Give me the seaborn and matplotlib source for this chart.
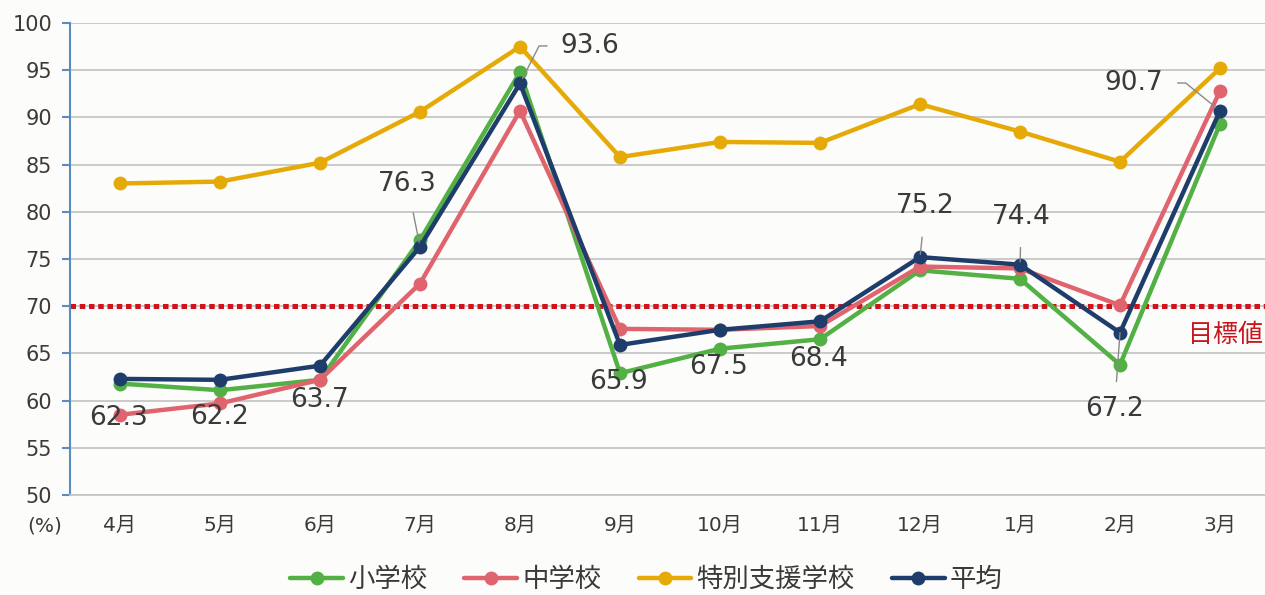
import numpy as np
import pandas as pd
import matplotlib
matplotlib.use('Agg')
import matplotlib.pyplot as plt
import matplotlib.transforms as mtransforms
import seaborn as sns

# ---------------- data ----------------
months = ['4月', '5月', '6月', '7月', '8月', '9月', '10月', '11月', '12月', '1月', '2月', '3月']
elementary = [61.8, 61.1, 62.2, 77.0, 94.8, 62.9, 65.5, 66.5, 73.8, 72.9, 63.8, 89.3]
junior = [58.5, 59.7, 62.2, 72.4, 90.7, 67.6, 67.5, 67.9, 74.2, 74.0, 70.1, 92.8]
special = [83.0, 83.2, 85.2, 90.6, 97.5, 85.8, 87.4, 87.3, 91.4, 88.5, 85.3, 95.2]
average = [62.3, 62.2, 63.7, 76.3, 93.6, 65.9, 67.5, 68.4, 75.2, 74.4, 67.2, 90.7]
series_names = ['小学校', '中学校', '特別支援学校', '平均']
target = 70
target_label = '目標値'
unit_label = '(%)'
yticks = list(range(50, 101, 5))

# ---------------- style ----------------
sns.set_theme(style='white')
plt.rcParams['font.family'] = ['DejaVu Sans', 'Noto Sans CJK JP']

colors = ['#52b044', '#e0646e', '#e6aa08', '#1e3d6b']
text_color = '#3a3a3a'
grid_color = '#c6c6c6'
axis_blue = '#5a8cbf'

rows = []
for name, vals in zip(series_names, [elementary, junior, special, average]):
    for i, (m, v) in enumerate(zip(months, vals)):
        rows.append({'pos': i, 'month': m, 'value': v, 'series': name})
df = pd.DataFrame(rows)

fig = plt.figure(figsize=(12.65, 5.95), dpi=100)
fig.patch.set_facecolor('#fcfcfa')
ax = fig.add_axes([70 / 1265, 100 / 595, 1200 / 1265, 472 / 595])
ax.set_facecolor('#fcfcfa')

sns.lineplot(data=df, x='pos', y='value', hue='series', hue_order=series_names,
             palette=colors, marker='o', markersize=10, markeredgewidth=0,
             linewidth=3.2, sort=False, ax=ax, zorder=3)

# target line
ax.axhline(target, color='#d0121b', lw=3.6, linestyle=(0, (1.1, 0.75)), zorder=2)
trans = mtransforms.blended_transform_factory(ax.transAxes, ax.transData)
ax.text(0.9625, target - 3.1, target_label, transform=trans, ha='center', va='center',
        fontsize=18, color='#c8161e', family=['Noto Sans CJK JP'])

# axes
ax.set_xlim(-0.5, 11.5)
ax.set_ylim(50, 100)
ax.set_yticks(yticks)
ax.set_yticklabels([str(t) for t in yticks], fontsize=15, color=text_color)
ax.set_xticks(range(len(months)))
ax.set_xticklabels(months, fontsize=14.5, color=text_color)
ax.set_xticks(np.arange(-0.5, len(months), 1.0), minor=True)
ax.tick_params(axis='x', which='major', length=0, pad=15)
ax.tick_params(axis='x', which='minor', length=5, width=1, color='#aaaaaa', direction='out')
ax.tick_params(axis='y', which='major', length=6, width=1.5, color=axis_blue, direction='out', pad=7, left=True)
ax.set_xlabel('')
ax.set_ylabel('')
ax.yaxis.grid(True, color=grid_color, lw=1.3)
ax.set_axisbelow(True)
for s in ['top', 'right']:
    ax.spines[s].set_visible(False)
ax.spines['left'].set_color(axis_blue)
ax.spines['left'].set_linewidth(1.5)
ax.spines['bottom'].set_color(grid_color)
ax.spines['bottom'].set_linewidth(1.3)

fig.text(45 / 1265, 1 - 526 / 595, unit_label, ha='center', va='center', fontsize=14.5, color=text_color)

# average value labels
offsets = [(-1, -28), (0, -27), (0, -25), (-9, 45), (50, 27), (-1, -27),
           (-1, -27), (-1, -27), (4, 37), (1, 34), (-4, -55), (-62, 20)]
leaders = {
    3: dict(connectionstyle='arc3', shrinkA=9, shrinkB=3),
    4: dict(connectionstyle='angle,angleA=0,angleB=63,rad=0', shrinkA=7, shrinkB=4),
    8: dict(connectionstyle='arc3', shrinkA=11, shrinkB=2),
    9: dict(connectionstyle='arc3', shrinkA=10, shrinkB=2),
    10: dict(connectionstyle='arc3', shrinkA=8, shrinkB=0),
    11: dict(connectionstyle='angle,angleA=0,angleB=-39,rad=0', shrinkA=8, shrinkB=4),
}
for i, v in enumerate(average):
    kw = {}
    if i in leaders:
        kw['arrowprops'] = dict(arrowstyle='-', color='#8a8a8a', lw=1.0, **leaders[i])
    ax.annotate(f'{v:.1f}', xy=(i, v), xytext=offsets[i], textcoords='offset points',
                ha='center', va='center', fontsize=19, color=text_color, zorder=5, **kw)

# legend
handles, labels = ax.get_legend_handles_labels()
ax.get_legend().remove()
fig.legend(handles, labels, loc='center', bbox_to_anchor=(0.511, 0.025), ncol=4,
           frameon=False, fontsize=19, handlelength=2.0, handletextpad=0.2,
           columnspacing=1.4, labelcolor=text_color)

fig.savefig('out.png', dpi=100, facecolor=fig.get_facecolor())
